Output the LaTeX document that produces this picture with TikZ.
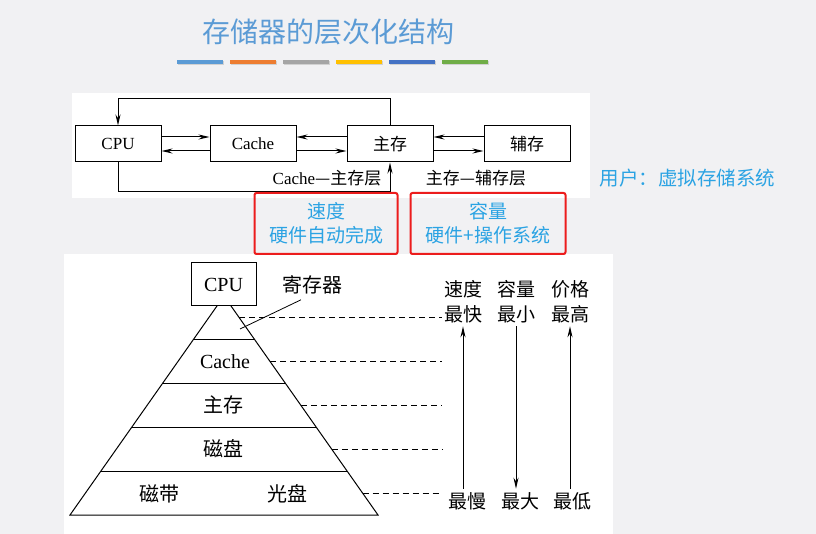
\documentclass[tikz,border=0pt]{standalone}
\usepackage{fontspec}
\setmainfont{Liberation Serif}
\newfontfamily\cjk{Noto Sans CJK SC}
\usetikzlibrary{arrows.meta,positioning,calc}
\definecolor{titleblue}{HTML}{5B9BD5}
\definecolor{noteblue}{HTML}{2BA3E3}
\definecolor{bggray}{HTML}{F1F1F3}
\definecolor{markred}{HTML}{EC1C1C}
\definecolor{barA}{HTML}{5B9BD5}
\definecolor{barB}{HTML}{ED7D31}
\definecolor{barC}{HTML}{A5A5A5}
\definecolor{barD}{HTML}{FFC000}
\definecolor{barE}{HTML}{4472C4}
\definecolor{barF}{HTML}{70AD47}
\newcommand{\fsz}[2]{\fontsize{#1}{#2}\selectfont}
\tikzset{box/.style={draw,line width=1pt,minimum width=86pt,minimum height=36pt,
  inner sep=0pt,font=\fsz{17}{20}},
  flow/.style={-{Stealth[length=11pt,width=5pt]},line width=1pt},
  lbl/.style={font=\fsz{17}{20}},
  redbox/.style={draw=markred,line width=2pt,rounded corners=2pt,minimum width=143pt,
  minimum height=61pt,align=center,text=noteblue,font=\cjk\fsz{19}{24}},
  tier/.style={font=\cjk\fsz{20}{24}},
  axislbl/.style={align=center,font=\cjk\fsz{19}{25}},
  guide/.style={dash pattern=on 6pt off 4pt,line width=1pt}}
\begin{document}
\begin{tikzpicture}[x=1pt,y=-1pt]
\useasboundingbox (0,0) rectangle (816,534);
\fill[bggray] (0,0) rectangle (816,534);
\fill[white] (72,93) rectangle (590,198);
\fill[white] (64,254) rectangle (613,534);
% title
\node[font=\cjk\fsz{28}{30},text=titleblue] (title) at (328,32) {存储器的层次化结构};
\foreach \c [count=\i] in {barA,barB,barC,barD,barE,barF}{
  \fill[black!18] ({125+53*\i},61) rectangle ++(46,4);
  \fill[\c] ({124+53*\i},60) rectangle ++(46,4);
}
% two-level hierarchy
\node[box] (cpu) at (118,144) {CPU};
\node[box,right=48pt of cpu] (cache) {Cache};
\node[box,right=50pt of cache] (mm) {\cjk 主存};
\node[box,right=50pt of mm] (aux) {\cjk 辅存};
\coordinate (loopt) at (0,99);
\coordinate (loopb) at (0,192);
\draw[flow] ([yshift=7pt]cpu.east) -- ([yshift=7pt]cache.west);
\draw[flow] ([yshift=-7pt]cache.west) -- ([yshift=-7pt]cpu.east);
\draw[flow] ([yshift=7pt]mm.west) -- ([yshift=7pt]cache.east);
\draw[flow] ([yshift=-7pt]cache.east) -- ([yshift=-7pt]mm.west);
\draw[flow] ([yshift=7pt]aux.west) -- ([yshift=7pt]mm.east);
\draw[flow] ([yshift=-7pt]mm.east) -- ([yshift=-7pt]aux.west);
\draw[flow] (mm.north) -- (mm.north |- loopt) -| (cpu.north);
\draw[flow] (cpu.south) -- (cpu.south |- loopb) -| (mm.south);
\node[lbl] (l1) at (327,178) {Cache{\cjk —主存层}};
\node[lbl] (l2) at (476,178) {\cjk 主存—辅存层};
\node[anchor=west,font=\cjk\fsz{19.5}{22},text=noteblue] (user) at (596,178) {用户：虚拟存储系统};
\node[redbox] (fast) at (326,223.5) {速度\\硬件自动完成};
\node[redbox,minimum width=155pt] (big) at (488,223.5) {容量\\硬件+操作系统};
% pyramid
\coordinate (apex) at (224,296);
\coordinate (bl) at (70,515);
\coordinate (br) at (378,515);
\draw[line width=1pt] (bl) -- (apex) -- (br) -- cycle;
\foreach \t in {0.2,0.4,0.6,0.8}
  \draw[line width=1pt] ($(apex)!\t!(bl)$) -- ($(apex)!\t!(br)$);
\node[box,fill=white,minimum width=65pt,minimum height=43pt,font=\fsz{20}{24}] (pcpu) at (223.5,284.5) {CPU};
\node[tier] (pcache) at (225,362) {\rmfamily Cache};
\node[tier] (pmm) at (223,405) {主存};
\node[tier] (pdisk) at (223,449) {磁盘};
\node[tier] (ptape) at (159,494) {磁带};
\node[tier] (poptic) at (287,494) {光盘};
\node[tier] (reg) at (312,285) {寄存器};
\coordinate (regpt) at (240,329);
\draw[line width=0.8pt] (regpt) -- ([xshift=-11pt,yshift=-2pt]reg.south);
\coordinate (dashend) at (442,0);
\foreach \t in {0.1,0.3,0.5,0.7,0.9}{
  \coordinate (d) at ($(apex)!\t!(br)$);
  \draw[guide] (d) -- (d -| dashend);
}
% trends
\node[axislbl] (spd) at (463,301.5) {速度\\最快};
\node[axislbl] (cap) at (516,301.5) {容量\\最小};
\node[axislbl] (cost) at (570,301.5) {价格\\最高};
\node[axislbl] (slow) at (467,501) {最慢};
\node[axislbl] (large) at (520,501) {最大};
\node[axislbl] (low) at (572,501) {最低};
\draw[flow] (spd.south |- slow.north) -- (spd.south);
\draw[flow] (cap.south) -- (cap.south |- large.north);
\draw[flow] (cost.south |- low.north) -- (cost.south);
\end{tikzpicture}
\end{document}
